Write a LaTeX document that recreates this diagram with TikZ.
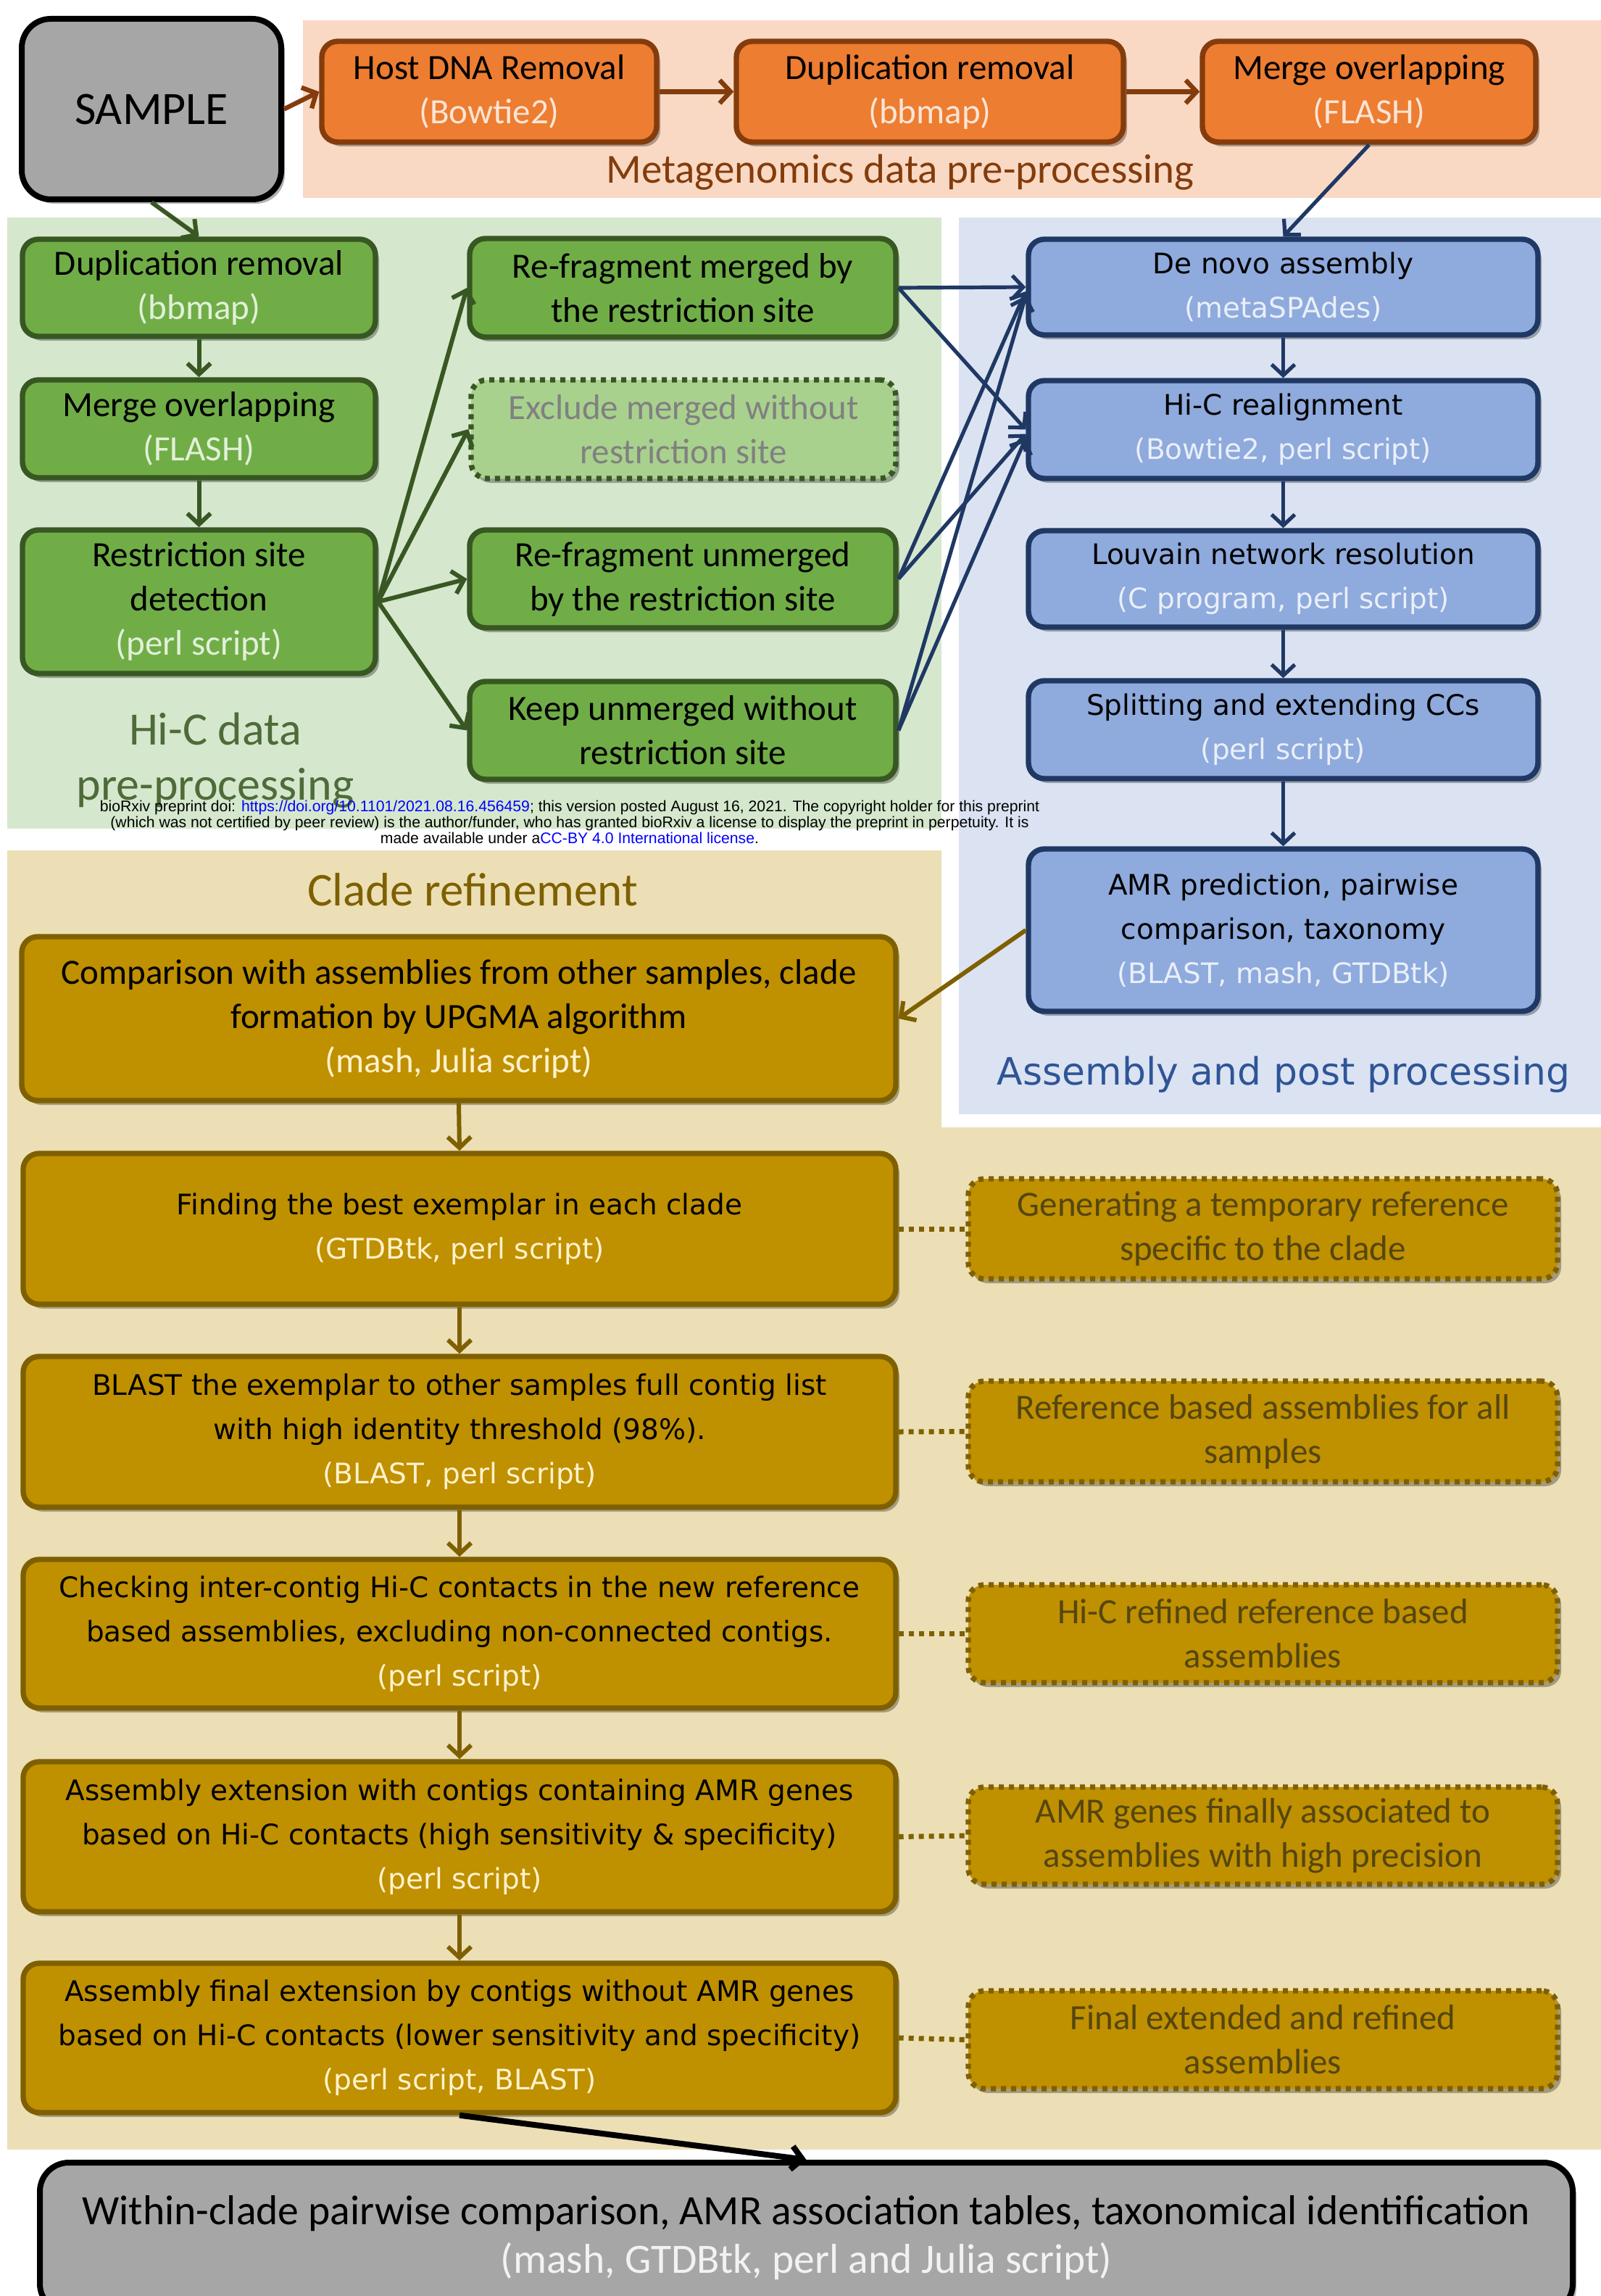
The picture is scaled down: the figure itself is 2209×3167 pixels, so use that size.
\documentclass[tikz,border=0pt]{standalone}
\usepackage{fontspec}
\setmainfont{Carlito}
\newfontfamily\vfont{DejaVu Sans}
\newfontfamily\wfont{Liberation Sans}
\usetikzlibrary{arrows.meta,shadows,calc}
\definecolor{bgOrange}{HTML}{F9D9C4}
\definecolor{bgGreen}{HTML}{D5E8CD}
\definecolor{bgBlue}{HTML}{DBE3F2}
\definecolor{bgTan}{HTML}{ECDFB5}
\definecolor{fOrange}{HTML}{ED7D31}
\definecolor{dOrange}{HTML}{843C0C}
\definecolor{lOrange}{HTML}{FBE5D6}
\definecolor{fGreen}{HTML}{70AD47}
\definecolor{dGreen}{HTML}{385723}
\definecolor{lGreen}{HTML}{E2F0D9}
\definecolor{pGreen}{HTML}{A9D18E}
\definecolor{fBlue}{HTML}{8FAADC}
\definecolor{dBlue}{HTML}{1F3864}
\definecolor{lBlue}{HTML}{E9EFF9}
\definecolor{fTan}{HTML}{BF9000}
\definecolor{dTan}{HTML}{7F6000}
\definecolor{lTan}{HTML}{FFF2CC}
\definecolor{tTan}{HTML}{55460F}
\definecolor{fGray}{HTML}{A6A6A6}
\definecolor{lGray}{HTML}{F2F2F2}
\definecolor{labGreen}{HTML}{4E6B39}
\definecolor{labBlue}{HTML}{2F5597}
\definecolor{linkBlue}{HTML}{0000FF}
\newcommand\bx[7]{\node[#6, minimum width={(#4-#2)*0.5pt}, minimum height={(#5-#3)*0.5pt}] (#1) at ({(#2+#4)/2},{(#3+#5)/2}) {#7};}
\tikzset{
  shad/.style={drop shadow={shadow xshift=2.5pt,shadow yshift=-3pt,fill=black,opacity=0.3}},
  basebox/.style={shad, rounded corners=11pt, line width=3.7pt, align=center, inner sep=0pt},
  cfont/.style={font=\fontsize{24.5}{30.5}\selectfont},
  vfnt/.style={font=\vfont\fontsize{19.5}{30.5}\selectfont},
  obox/.style={basebox, cfont, fill=fOrange, draw=dOrange},
  gbox/.style={basebox, cfont, fill=fGreen, draw=dGreen},
  gdot/.style={basebox, cfont, fill=pGreen, draw=dGreen, dash pattern=on 3.5pt off 3.5pt, text=black!50},
  bbox/.style={basebox, vfnt, fill=fBlue, draw=dBlue},
  tbox/.style={basebox, vfnt, fill=fTan, draw=dTan},
  tcbox/.style={basebox, cfont, fill=fTan, draw=dTan},
  tdot/.style={basebox, cfont, fill=fTan, draw=dTan, dash pattern=on 3.5pt off 3.5pt, text=tTan},
  graybox/.style={shad, rounded corners=20pt, line width=4pt, align=center, inner sep=0pt, fill=fGray, draw=black},
  tip/.style={-{Straight Barb[length=7.5pt,width=16pt]}},
  oarr/.style={tip, line width=3.2pt, draw=dOrange},
  garr/.style={tip, line width=3pt, draw=dGreen},
  barr/.style={tip, line width=2.6pt, draw=dBlue},
  tarr/.style={tip, line width=3pt, draw=dTan},
  karr/.style={tip, line width=4pt, draw=black},
  dotcon/.style={line width=3.5pt, draw=dTan, dash pattern=on 3.5pt off 3.5pt},
}
\begin{document}
\begin{tikzpicture}[x=0.5pt,y=-0.5pt]
\clip (0,0) rectangle (2209,3167);
\fill[white] (0,0) rectangle (2209,3167);
% backgrounds
\fill[bgOrange] (418,28) rectangle (2209,273);
\fill[bgGreen] (10,300) rectangle (1299,1143);
\fill[bgBlue] (1323,300) rectangle (2209,1537);
\fill[bgTan] (10,1173) -- (1299,1173) -- (1299,1555) -- (2209,1555) -- (2209,2965) -- (10,2965) -- cycle;
% labels
\node[font=\fontsize{28.5}{34}\selectfont, text=dOrange] (lmeta) at (1242,238) {Metagenomics data pre-processing};
\node[font=\fontsize{32}{38}\selectfont, text=labGreen, anchor=base] (lhic1) at (297,1027) {Hi-C data};
\node[font=\fontsize{32}{38}\selectfont, text=labGreen, anchor=base] (lhic2) at (297,1103) {pre-processing};
\node[font=\vfont\fontsize{26}{32}\selectfont, text=labBlue] (lasm) at (1771,1482) {Assembly and post processing};
\node[font=\fontsize{32.5}{38}\selectfont, text=dTan] (lclade) at (652,1227) {Clade refinement};
% sample
\bx{sample}{30}{26}{388}{275}{graybox, font=\fontsize{32}{38}\selectfont}{SAMPLE}
% orange
\bx{host}{444}{57}{906}{196}{obox}{Host DNA Removal\\\textcolor{lOrange}{(Bowtie2)}}
\bx{odup}{1016}{57}{1550}{196}{obox}{Duplication removal\\\textcolor{lOrange}{(bbmap)}}
\bx{omerge}{1659}{57}{2119}{196}{obox}{Merge overlapping\\\textcolor{lOrange}{(FLASH)}}
% green
\bx{gdup}{31}{330}{518}{464}{gbox}{Duplication removal\\\textcolor{lGreen}{(bbmap)}}
\bx{gmerge}{31}{524}{518}{659}{gbox}{Merge overlapping\\\textcolor{lGreen}{(FLASH)}}
\bx{grest}{31}{731}{518}{929}{gbox}{Restriction site\\detection\\\textcolor{lGreen}{(perl script)}}
\bx{gref1}{648}{329}{1236}{465}{gbox}{Re-fragment merged by\\the restriction site}
\bx{gexcl}{650}{524}{1236}{660}{gdot}{Exclude merged without\\restriction site}
\bx{gref2}{648}{731}{1236}{866}{gbox}{Re-fragment unmerged\\by the restriction site}
\bx{gkeep}{648}{940}{1236}{1075}{gbox}{Keep unmerged without\\restriction site}
% blue
\bx{denovo}{1419}{330}{2122}{462}{bbox}{De novo assembly\\\textcolor{lBlue}{(metaSPAdes)}}
\bx{hicr}{1419}{525}{2122}{660}{bbox}{Hi-C realignment\\\textcolor{lBlue}{(Bowtie2, perl script)}}
\bx{louv}{1419}{732}{2122}{865}{bbox}{Louvain network resolution\\\textcolor{lBlue}{(C program, perl script)}}
\bx{split}{1419}{939}{2122}{1074}{bbox}{Splitting and extending CCs\\\textcolor{lBlue}{(perl script)}}
\bx{amr}{1419}{1171}{2122}{1395}{bbox}{AMR prediction, pairwise\\comparison, taxonomy\\\textcolor{lBlue}{(BLAST, mash, GTDBtk)}}
% tan left
\bx{comp}{30}{1292}{1236}{1518}{tcbox}{Comparison with assemblies from other samples, clade\\formation by UPGMA algorithm\\\textcolor{lTan}{(mash, Julia script)}}
\bx{find}{32}{1591}{1236}{1799}{tbox}{Finding the best exemplar in each clade\\\textcolor{lTan}{(GTDBtk, perl script)}}
\bx{blast}{32}{1871}{1236}{2079}{tbox}{BLAST the exemplar to other samples full contig list\\with high identity threshold (98\%).\\\textcolor{lTan}{(BLAST, perl script)}}
\bx{check}{32}{2151}{1236}{2356}{tbox}{Checking inter-contig Hi-C contacts in the new reference\\based assemblies, excluding non-connected contigs.\\\textcolor{lTan}{(perl script)}}
\bx{ext}{32}{2430}{1236}{2637}{tbox}{Assembly extension with contigs containing AMR genes\\based on Hi-C contacts (high sensitivity \& specificity)\\\textcolor{lTan}{(perl script)}}
\bx{fext}{32}{2708}{1236}{2914}{tbox}{Assembly final extension by contigs without AMR genes\\based on Hi-C contacts (lower sensitivity and specificity)\\\textcolor{lTan}{(perl script, BLAST)}}
% tan right dotted
\bx{gen}{1336}{1626}{2149}{1764}{tdot}{Generating a temporary reference\\specific to the clade}
\bx{refb}{1336}{1905}{2149}{2044}{tdot}{Reference based assemblies for all\\samples}
\bx{hicref}{1336}{2186}{2149}{2321}{tdot}{Hi-C refined reference based\\assemblies}
\bx{amrg}{1336}{2465}{2149}{2599}{tdot}{AMR genes finally associated to\\assemblies with high precision}
\bx{fin}{1336}{2746}{2149}{2881}{tdot}{Final extended and refined\\assemblies}
% final gray
\bx{final}{55}{2983}{2170}{3190}{graybox, font=\fontsize{28.8}{33.5}\selectfont}{Within-clade pairwise comparison, AMR association tables, taxonomical identification\\\textcolor{lGray}{(mash, GTDBtk, perl and Julia script)}}
% watermark
\node[font=\wfont\fontsize{10.6}{11}\selectfont, align=center, inner sep=0pt] (wm) at (786,1134) {bioRxiv preprint doi: \textcolor{linkBlue}{https://doi.org/10.1101/2021.08.16.456459}; this version posted August 16, 2021. The copyright holder for this preprint\\(which was not certified by peer review) is the author/funder, who has granted bioRxiv a license to display the preprint in perpetuity. It is\\made available under a\textcolor{linkBlue}{CC-BY 4.0 International license}.};
% connectors
\draw[oarr] (sample.east) -- (host.west);
\draw[oarr] (host.east) -- (odup.west);
\draw[oarr] (odup.east) -- (omerge.west);
\draw[barr] (omerge.south) -- (denovo.north);
\draw[garr] (sample.south) -- (gdup.north);
\draw[garr] (gdup.south) -- (gmerge.north);
\draw[garr] (gmerge.south) -- (grest.north);
\draw[garr] (grest.east) -- (gref1.west);
\draw[garr] (grest.east) -- (gexcl.west);
\draw[garr] (grest.east) -- (gref2.west);
\draw[garr] (grest.east) -- (gkeep.west);
\draw[barr] (gref1.east) -- (denovo.west);
\draw[barr] (gref1.east) -- (hicr.west);
\draw[barr] (gref2.east) -- ($(denovo.west)+(0,6)$);
\draw[barr] (gref2.east) -- ($(hicr.west)+(0,6)$);
\draw[barr] (gkeep.east) -- ($(denovo.west)+(0,12)$);
\draw[barr] (gkeep.east) -- ($(hicr.west)+(0,12)$);
\draw[barr] (denovo.south) -- (hicr.north);
\draw[barr] (hicr.south) -- (louv.north);
\draw[barr] (louv.south) -- (split.north);
\draw[barr] (split.south) -- (amr.north);
\draw[tarr] (amr.west) -- (comp.east);
\draw[tarr] (comp.south) -- (find.north);
\draw[tarr] (find.south) -- (blast.north);
\draw[tarr] (blast.south) -- (check.north);
\draw[tarr] (check.south) -- (ext.north);
\draw[tarr] (ext.south) -- (fext.north);
\draw[dotcon] (find.east) -- (gen.west);
\draw[dotcon] (blast.east) -- (refb.west);
\draw[dotcon] (check.east) -- (hicref.west);
\draw[dotcon] (ext.east) -- (amrg.west);
\draw[dotcon] (fext.east) -- (fin.west);
\draw[karr] (fext.south) -- (final.north);
\end{tikzpicture}
\end{document}
